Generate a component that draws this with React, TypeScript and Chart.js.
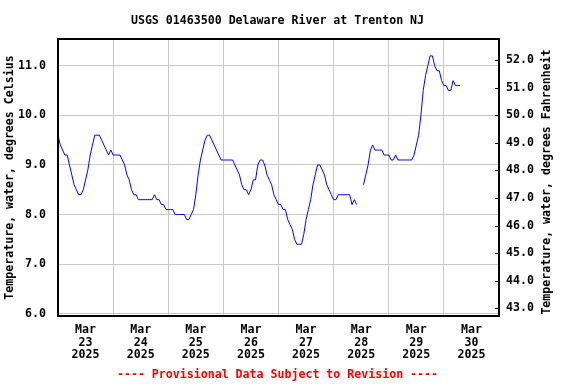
import React, { useEffect, useRef } from 'react';
import { Chart, registerables } from 'chart.js';

Chart.register(...registerables);

const TITLE = 'USGS 01463500 Delaware River at Trenton NJ';
const FOOTER = '---- Provisional Data Subject to Revision ----';
const LEFT_TITLE = 'Temperature, water, degrees Celsius';
const RIGHT_TITLE = 'Temperature, water, degrees Fahrenheit';
const MONTH = 'Mar';
const YEAR = '2025';
const DAY_LABELS = ['23', '24', '25', '26', '27', '28', '29', '30'];
const FAHRENHEIT_TICKS = [43, 44, 45, 46, 47, 48, 49, 50, 51, 52];

// Hourly water temperature, degrees Celsius (index = hour of the day)
const mar23 = [9.6, 9.4, 9.3, 9.2, 9.2, 9.0, 8.8, 8.6, 8.5, 8.4, 8.4, 8.5, 8.7, 8.9, 9.2, 9.4, 9.6, 9.6, 9.6, 9.5, 9.4, 9.3, 9.2, 9.3];
const mar24 = [9.2, 9.2, 9.2, 9.2, 9.1, 9.0, 8.8, 8.7, 8.5, 8.4, 8.4, 8.3, 8.3, 8.3, 8.3, 8.3, 8.3, 8.3, 8.4, 8.3, 8.3, 8.2, 8.2, 8.1];
const mar25 = [8.1, 8.1, 8.1, 8.0, 8.0, 8.0, 8.0, 8.0, 7.9, 7.9, 8.0, 8.1, 8.4, 8.8, 9.1, 9.3, 9.5, 9.6, 9.6, 9.5, 9.4, 9.3, 9.2, 9.1];
const mar26 = [9.1, 9.1, 9.1, 9.1, 9.1, 9.0, 8.9, 8.8, 8.6, 8.5, 8.5, 8.4, 8.5, 8.7, 8.7, 9.0, 9.1, 9.1, 9.0, 8.8, 8.7, 8.6, 8.4, 8.3];
const mar27 = [8.2, 8.2, 8.1, 8.1, 7.9, 7.8, 7.7, 7.5, 7.4, 7.4, 7.4, 7.6, 7.9, 8.1, 8.3, 8.6, 8.8, 9.0, 9.0, 8.9, 8.8, 8.6, 8.5, 8.4];
const mar28: (number | null)[] = [8.3, 8.3, 8.4, 8.4, 8.4, 8.4, 8.4, 8.4, 8.2, 8.3, 8.2, null, null, 8.6, 8.8, 9.0, 9.3, 9.4, 9.3, 9.3, 9.3, 9.3, 9.2, 9.2];
const mar29 = [9.2, 9.1, 9.1, 9.2, 9.1, 9.1, 9.1, 9.1, 9.1, 9.1, 9.1, 9.2, 9.4, 9.6, 10.0, 10.5, 10.8, 11.0, 11.2, 11.2, 11.0, 10.9, 10.9, 10.7];
const mar30 = [10.6, 10.6, 10.5, 10.5, 10.7, 10.6, 10.6, 10.6];

const DAYS: (number | null)[][] = [mar23, mar24, mar25, mar26, mar27, mar28, mar29, mar30];

const C_MIN = 5.954;
const C_MAX = 11.54;
const cToF = (c: number) => c * 1.8 + 32;

const FONT_FAMILY = "'DejaVu Sans Mono', 'Liberation Mono', monospace";
const FONT_SIZE = 11.6;

export default function App() {
  const canvasRef = useRef<HTMLCanvasElement | null>(null);

  useEffect(() => {
    const canvas = canvasRef.current;
    if (!canvas) return;

    const points: { x: number; y: number | null }[] = [];
    DAYS.forEach((day, d) => {
      day.forEach((v, h) => points.push({ x: d * 24 + h, y: v }));
    });

    const textPlugin = {
      id: 'usgsText',
      afterDraw(chart: any) {
        const { ctx, chartArea } = chart;
        ctx.save();
        // frame
        ctx.strokeStyle = '#000';
        ctx.lineWidth = 2;
        ctx.strokeRect(chartArea.left, chartArea.top, chartArea.right - chartArea.left, chartArea.bottom - chartArea.top);
        // inside ticks on right axis
        const yF = chart.scales.yF;
        ctx.lineWidth = 1;
        FAHRENHEIT_TICKS.forEach((t) => {
          const py = Math.round(yF.getPixelForValue(t)) + 0.5;
          ctx.beginPath();
          ctx.moveTo(chartArea.right - 4, py);
          ctx.lineTo(chartArea.right, py);
          ctx.stroke();
        });
        ctx.font = `bold ${FONT_SIZE}px ${FONT_FAMILY}`;
        ctx.textAlign = 'center';
        ctx.textBaseline = 'middle';
        ctx.fillStyle = '#000';
        ctx.fillText(TITLE, 277.5, 21);
        ctx.fillStyle = '#ff0000';
        ctx.fillText(FOOTER, 277.5, 375);
        // right axis title, reading bottom to top
        ctx.fillStyle = '#000';
        ctx.translate(547, 182);
        ctx.rotate(-Math.PI / 2);
        ctx.fillText(RIGHT_TITLE, 0, 0);
        ctx.restore();
      },
    };

    const tickFont = { family: FONT_FAMILY, size: FONT_SIZE, weight: 'bold' as const };

    const chart = new Chart(canvas, {
      type: 'line',
      data: {
        datasets: [
          {
            data: points as any,
            borderColor: '#0000ff',
            borderWidth: 1,
            pointRadius: 0,
            tension: 0,
            spanGaps: false,
            yAxisID: 'y',
            xAxisID: 'x',
          },
        ],
      },
      options: {
        responsive: false,
        animation: false,
        layout: { padding: { top: 39, left: 0, right: 0, bottom: 0 } },
        plugins: {
          legend: { display: false },
          title: { display: false },
          tooltip: { enabled: false },
        },
        scales: {
          x: {
            type: 'linear',
            position: 'bottom',
            min: 0,
            max: 192,
            afterFit: (s: any) => {
              s.height = 68;
            },
            border: { display: false },
            grid: {
              color: (ctx: any) => (ctx.tick && ctx.tick.value % 24 === 0 ? '#c8c8c8' : 'rgba(0,0,0,0)'),
              lineWidth: 1,
              drawTicks: false,
            },
            ticks: {
              stepSize: 12,
              autoSkip: false,
              maxRotation: 0,
              minRotation: 0,
              padding: 7.5,
              color: '#000',
              font: { ...tickFont, lineHeight: 1.1 },
              callback: (value: any) => {
                const v = Number(value);
                if (v % 24 !== 12) return '';
                const d = Math.floor(v / 24);
                return [MONTH, DAY_LABELS[d], YEAR];
              },
            },
          },
          y: {
            type: 'linear',
            position: 'left',
            min: C_MIN,
            max: C_MAX,
            afterFit: (s: any) => {
              s.width = 58;
            },
            afterBuildTicks: (s: any) => {
              s.ticks = [6, 7, 8, 9, 10, 11].map((v) => ({ value: v }));
            },
            border: { display: false },
            grid: { color: '#c8c8c8', lineWidth: 1, drawTicks: false },
            ticks: {
              padding: 12,
              color: '#000',
              font: tickFont,
              callback: (value: any) => Number(value).toFixed(1),
            },
            title: {
              display: true,
              text: LEFT_TITLE,
              color: '#000',
              font: tickFont,
              padding: { top: 3, bottom: 0 },
            },
          },
          yF: {
            type: 'linear',
            position: 'right',
            min: cToF(C_MIN),
            max: cToF(C_MAX),
            afterFit: (s: any) => {
              s.width = 77;
            },
            afterBuildTicks: (s: any) => {
              s.ticks = FAHRENHEIT_TICKS.map((v) => ({ value: v }));
            },
            border: { display: false },
            grid: { drawOnChartArea: false, drawTicks: false },
            ticks: {
              padding: 7,
              color: '#000',
              font: tickFont,
              callback: (value: any) => Number(value).toFixed(1),
            },
          },
        },
      },
      plugins: [textPlugin],
    });

    return () => chart.destroy();
  }, []);

  return (
    <div style={{ position: 'absolute', left: 0, top: 0, width: 576, height: 384, background: '#fff' }}>
      <canvas ref={canvasRef} width={576} height={384} style={{ display: 'block' }} />
    </div>
  );
}
